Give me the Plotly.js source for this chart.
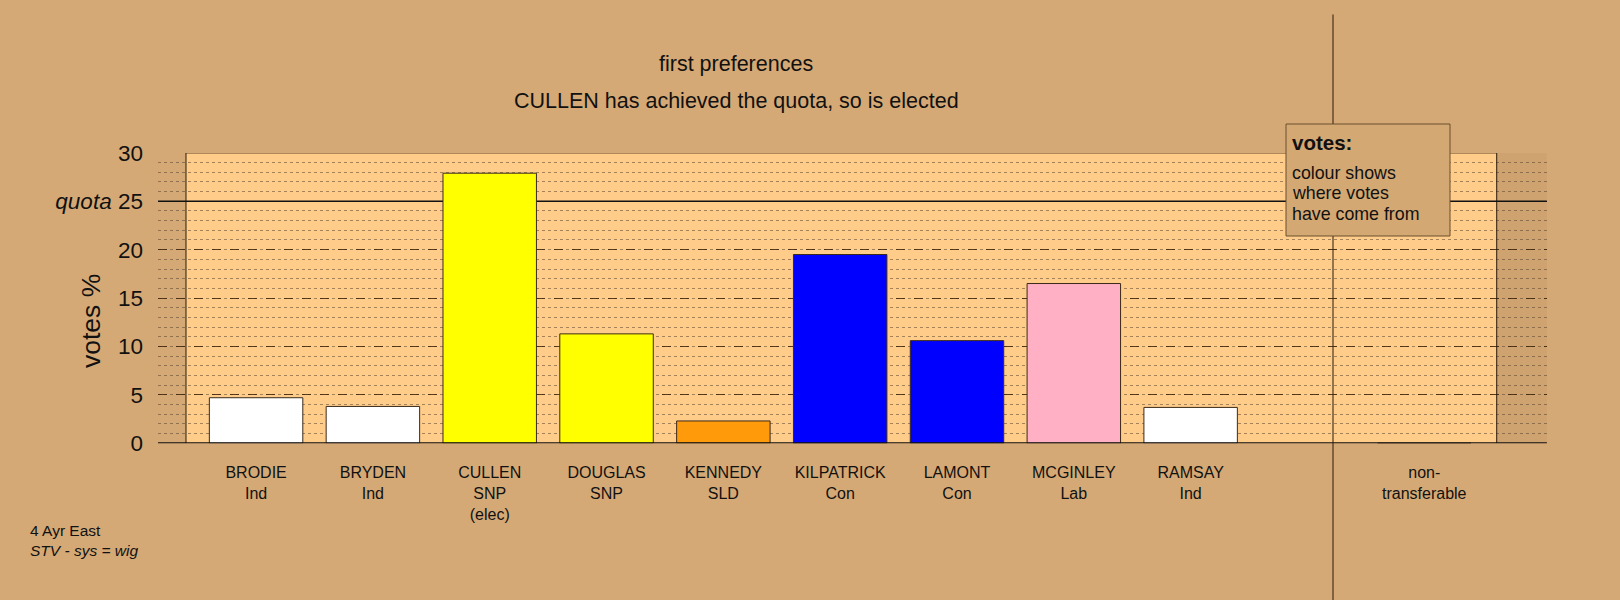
<!DOCTYPE html>
<html>
<head>
<meta charset="utf-8">
<script src="https://cdn.plot.ly/plotly-3.0.1.min.js"></script>
<style>html,body{margin:0;padding:0;background:#D5A975;}</style>
</head>
<body>
<div id="chart" style="width:1620px;height:600px;"></div>
<script>
// ---- data ----
const candidates = ["BRODIE","BRYDEN","CULLEN","DOUGLAS","KENNEDY","KILPATRICK","LAMONT","MCGINLEY","RAMSAY","","non-"];
const parties    = ["Ind","Ind","SNP","SNP","SLD","Con","Con","Lab","Ind","","transferable"];
const notes      = ["","","(elec)","","","","","","","",""];
const votes      = [4.7, 3.8, 27.9, 11.3, 2.3, 19.5, 10.6, 16.5, 3.7, null, 0];
const barColors  = ["#FFFFFF","#FFFFFF","#FFFF00","#FFFF00","#FF9A0A","#0000FF","#0000FF","#FFB0C4","#FFFFFF","#FFFFFF","#FFFFFF"];
const quota = 25;
const yTicks = [0,5,10,15,20,25,30];
const yTickText = ["0","5","10","15","20","<i>quota</i> 25","30"];
const titleLines = ["first preferences","CULLEN has achieved the quota, so is elected"];
const legendTitle = "votes:";
const legendLines = ["colour shows","where votes","have come from"];
const footLines = ["4 Ayr East","<i>STV - sys = wig</i>"];

const idx = candidates.map((_, i) => i);
const tickText = candidates.map((c, i) => [c, parties[i], notes[i]].filter(s => s !== "").join("<br>"));

const FONT = "Liberation Sans, Arial, sans-serif";
const XR = [-0.84, 11.05];

const trace = {
  type: "bar",
  x: idx,
  y: votes,
  width: 0.8,
  marker: { color: barColors, line: { color: "#3a2a1a", width: 1 } },
  hoverinfo: "skip"
};

const annotations = [
  { xref: "paper", yref: "paper", x: 736/1620, y: 1 - 64/600, text: titleLines[0], showarrow: false,
    xanchor: "center", yanchor: "middle", font: { size: 21.5, family: FONT, color: "#111" } },
  { xref: "paper", yref: "paper", x: 736/1620, y: 1 - 101/600, text: titleLines[1], showarrow: false,
    xanchor: "center", yanchor: "middle", font: { size: 21.5, family: FONT, color: "#111" } },
  { xref: "paper", yref: "paper", x: 91/1620, y: 1 - 321/600, text: "votes %", textangle: -90, showarrow: false,
    xanchor: "center", yanchor: "middle", font: { size: 26.5, family: FONT, color: "#111" } },
  { xref: "paper", yref: "paper", x: 1290/1620, y: 1 - 143/600, text: "<b>" + legendTitle + "</b>", showarrow: false,
    xanchor: "left", yanchor: "middle", font: { size: 20.5, family: FONT, color: "#111" } },
  { xref: "paper", yref: "paper", x: 28/1620, y: 1 - 540/600, text: footLines.join("<br>"), showarrow: false,
    xanchor: "left", yanchor: "middle", align: "left", font: { size: 15.5, family: FONT, color: "#111" } }
];
legendLines.forEach((t, i) => {
  annotations.push({ xref: "paper", yref: "paper", x: 1290/1620, y: 1 - (172.5 + 20.7 * i)/600, text: t, showarrow: false,
    xanchor: "left", yanchor: "middle", align: "left", font: { size: 17.8, family: FONT, color: "#111" } });
});

const layout = {
  width: 1620, height: 600,
  paper_bgcolor: "#D5A975",
  plot_bgcolor: "rgba(0,0,0,0)",
  margin: { l: 0, r: 0, t: 0, b: 0 },
  showlegend: false,
  font: { family: FONT, color: "#111" },
  xaxis: {
    domain: [0.0975, 0.9549],
    range: XR,
    tickvals: idx,
    ticktext: tickText,
    ticks: "",
    showgrid: false,
    zeroline: false,
    showline: false,
    tickfont: { size: 16, family: FONT, color: "#111" },
    ticklabelstandoff: 18
  },
  yaxis: {
    domain: [0.2613, 0.7452],
    range: [0, 30],
    tickvals: yTicks,
    ticktext: yTickText,
    ticks: "",
    tickfont: { size: 22.5, family: FONT, color: "#111" },
    ticklabelstandoff: 14,
    showgrid: true,
    gridcolor: "rgba(60,35,10,0.85)",
    gridwidth: 1,
    griddash: "dash",
    zeroline: false,
    minor: { dtick: 1, showgrid: true, gridcolor: "rgba(90,70,50,0.55)", gridwidth: 1, griddash: "dot" }
  },
  shapes: [
    // inner panel
    { type: "rect", xref: "x", yref: "y", x0: -0.6, x1: 10.62, y0: 0, y1: 30, layer: "below",
      fillcolor: "#FFCC8A", line: { width: 0 } },
    // right outer shading
    { type: "rect", xref: "x", yref: "y", x0: 10.62, x1: XR[1], y0: 0, y1: 30, layer: "below",
      fillcolor: "rgba(120,80,40,0.07)", line: { width: 0 } },
    // panel borders
    { type: "line", xref: "x", yref: "y", x0: -0.6, x1: -0.6, y0: 0, y1: 30, layer: "between", line: { color: "#2a1a0a", width: 1 } },
    { type: "line", xref: "x", yref: "y", x0: 10.62, x1: 10.62, y0: 0, y1: 30, layer: "between", line: { color: "#2a1a0a", width: 1 } },
    { type: "line", xref: "x", yref: "y", x0: -0.6, x1: 10.62, y0: 30, y1: 30, layer: "between", line: { color: "#2a1a0a", width: 1 } },
    // quota line (behind bars)
    { type: "line", xref: "x", yref: "y", x0: XR[0], x1: XR[1], y0: quota, y1: quota, layer: "between", line: { color: "#111", width: 1.5 } },
    // baseline
    { type: "line", xref: "x", yref: "y", x0: XR[0], x1: XR[1], y0: 0, y1: 0, line: { color: "#111", width: 2 } },
    // separator before non-transferable
    { type: "line", xref: "paper", yref: "paper", x0: 1333/1620, x1: 1333/1620, y0: 0, y1: 1 - 14.5/600, line: { color: "#2a1a0a", width: 1 } },
    // legend box
    { type: "rect", xref: "paper", yref: "paper", x0: 1286/1620, x1: 1450/1620, y0: 1 - 236/600, y1: 1 - 124/600,
      fillcolor: "#D3A873", line: { color: "#6b4e2e", width: 1 } }
  ],
  annotations: annotations
};

Plotly.newPlot("chart", [trace], layout, { staticPlot: true, displayModeBar: false });
</script>
</body>
</html>
